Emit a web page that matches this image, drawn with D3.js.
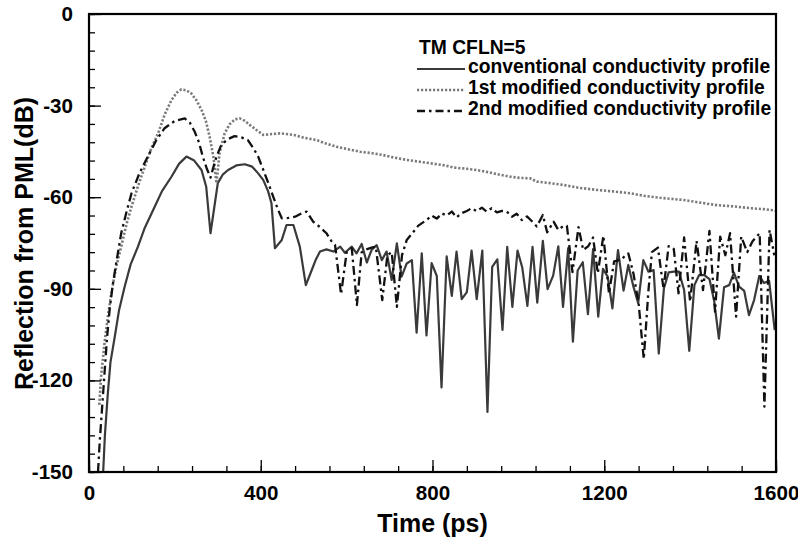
<!DOCTYPE html>
<html>
<head>
<meta charset="utf-8">
<script src="https://cdn.jsdelivr.net/npm/d3@7"></script>
<style>
  html, body { margin: 0; padding: 0; background: #fff; }
  svg text { font-family: "Liberation Sans", Arial, Helvetica, sans-serif; font-weight: bold; }
</style>
</head>
<body>
<svg id="chart" width="798" height="548"></svg>
<script>
// Reflection from the PML versus time, three conductivity profiles (TM, CFLN = 5)
const xMajorTicks = [0, 400, 800, 1200, 1600];
const yMajorTicks = [0, -30, -60, -90, -120, -150];
const legendTitle = "TM CFLN=5";
const seriesNames = [
  "conventional conductivity profile",
  "1st modified conductivity profile",
  "2nd modified conductivity profile"
];

// [time (ps), reflection (dB)]
const conventional = [
  [33,-150],[37,-138],[44,-124],[50,-114],[60,-105.7],[70,-97],[83,-89.3],[97,-82],
  [114,-76.2],[130,-70],[153,-63.1],[170,-58],[192,-53.3],[210,-49],[227,-46.7],[245,-48],
  [262,-51.1],[273,-56.6],[283,-71.8],[300,-55.4],[312,-52.5],[324,-51.1],[343,-49.6],[363,-49.2],
  [380,-50],[394,-52.2],[406,-54.4],[417,-58],[425,-62],[433,-76.7],[449,-74],[460,-69.1],
  [476,-69.1],[491,-76.2],[505,-88.8],[517,-84.5],[528,-80.5],[538,-77.8],[553,-77.1],[569,-77.8],
  [585,-76.2],[596,-78.2],[612,-76.2],[623,-78.4],[635,-75.3],[647,-81.4],[658,-77.3],[670,-75.7],
  [682,-80.6],[693,-77.8],[705,-87.1],[717,-75.1],[728,-86],[740,-81.7],[752,-80.6],[763,-104.4],
  [775,-78.4],[786,-105.3],[798,-81.6],[810,-85.8],[821,-122.3],[833,-79.4],[845,-92.3],[856,-77.8],
  [868,-93.4],[880,-91.1],[891,-77.5],[903,-93.4],[916,-77.5],[928,-130.3],[939,-82.8],[951,-80.4],
  [963,-103.5],[974,-76.3],[986,-95.9],[998,-77.5],[1009,-83],[1021,-95.6],[1033,-76.3],[1044,-94.5],
  [1057,-74.3],[1068,-90.1],[1081,-85.7],[1093,-76.1],[1104,-95.9],[1116,-76.7],[1127,-107.3],[1138,-84],
  [1150,-81.3],[1162,-98.3],[1174,-77],[1186,-99.1],[1197,-83.5],[1208,-86],[1219,-96.4],[1232,-77.3],
  [1245,-90.6],[1256,-82.2],[1268,-89.3],[1279,-94.7],[1291,-80.6],[1303,-84.4],[1315,-83.9],[1327,-111.2],
  [1339,-89.8],[1350,-84.6],[1362,-84.4],[1374,-84.4],[1386,-90.4],[1398,-110.3],[1410,-88.8],[1421,-85.5],
  [1433,-85.5],[1445,-86.8],[1456,-94],[1467,-106.3],[1479,-89.5],[1491,-88.8],[1502,-84.7],[1514,-89.3],
  [1526,-90.7],[1537,-98.6],[1549,-93.7],[1561,-85.8],[1572,-88.1],[1584,-87.4],[1597,-103.5]
];

const modified1 = [
  [24,-128],[28,-119],[36,-108],[44,-99],[52,-91.5],[63,-83],[75,-76.2],[87,-69],
  [99,-63.1],[115,-56],[130,-50],[145,-44],[161,-39.1],[176,-33],[192,-28.2],[204,-25.8],
  [215,-24.7],[227,-25],[238,-26],[250,-28.2],[262,-31.4],[272,-35],[281,-40.2],[290,-47],
  [297,-55.4],[304,-45.6],[316,-39.1],[328,-36],[340,-34.5],[351,-34.2],[363,-35],[375,-36.4],
  [390,-38],[406,-39.6],[420,-39.4],[445,-39.1],[460,-39.3],[476,-39.6],[500,-40.5],[530,-41.3],
  [550,-42.3],[577,-43.5],[600,-44.2],[631,-45.1],[660,-45.6],[685,-46.2],[710,-47],[740,-47.8],
  [771,-48.4],[800,-49],[825,-49.5],[850,-50.3],[880,-50.7],[903,-51.1],[930,-51.8],[955,-52.6],
  [981,-53.3],[1005,-53.7],[1027,-53.8],[1043,-54.9],[1070,-55.3],[1105,-56],[1140,-56.9],[1182,-57.6],
  [1220,-58.1],[1260,-58.7],[1295,-59.6],[1330,-60.2],[1360,-60.6],[1384,-60.9],[1420,-61.7],[1462,-62.6],
  [1500,-63],[1540,-63.6],[1570,-63.9],[1600,-64.4]
];

const modified2 = [
  [21,-150],[25,-140],[30,-130],[36,-118],[42,-106],[48,-96.9],[55,-89],[64,-81],
  [75,-71.8],[87,-65],[99,-58.7],[118,-52],[137,-46.7],[156,-41.5],[176,-37.4],[200,-35],
  [223,-34.2],[235,-35.6],[246,-38.5],[256,-42],[265,-46.7],[274,-50.5],[283,-53.6],[291,-49.5],
  [297,-46.7],[308,-42.9],[323,-41],[339,-40],[355,-40.4],[370,-41.3],[383,-44],[394,-46.7],
  [406,-51.1],[418,-55.5],[429,-59.8],[440,-64],[449,-66.9],[464,-66.8],[480,-66.4],[495,-65.3],
  [507,-64.7],[522,-68],[538,-69.8],[553,-71.8],[565,-74.5],[573,-75.6],[587,-91.8],[600,-78.1],
  [612,-76.7],[624,-95.3],[635,-78],[648,-77],[658,-76.5],[668,-76.2],[683,-93.7],[695,-79],
  [705,-78],[717,-95.9],[729,-79],[740,-74],[752,-72],[767,-69.3],[786,-67.5],[798,-66],
  [810,-67],[822,-65.3],[833,-66],[845,-64.7],[856,-66.6],[868,-65.2],[880,-64.5],[891,-63.6],
  [903,-64.6],[915,-63.4],[926,-64.7],[938,-63.6],[950,-65],[962,-64.5],[973,-64.7],[985,-66.4],
  [996,-65.4],[1008,-67.5],[1020,-66.3],[1031,-67.8],[1043,-69.6],[1057,-65.8],[1067,-71.5],[1082,-68],
  [1093,-70.7],[1104,-69.5],[1113,-69.4],[1126,-84.5],[1140,-69.8],[1151,-77.3],[1163,-76],[1174,-73.2],
  [1185,-84.9],[1198,-72.6],[1211,-91.5],[1223,-81],[1237,-80.6],[1256,-78.4],[1268,-85],[1280,-94.7],
  [1292,-113],[1303,-90.4],[1311,-78],[1325,-76.5],[1338,-90],[1350,-76],[1362,-77],[1373,-91.5],
  [1386,-73.2],[1400,-94.2],[1415,-74.3],[1430,-90.4],[1445,-71],[1458,-97.5],[1470,-72.9],[1482,-79],
  [1493,-71.8],[1507,-99.1],[1519,-72.9],[1533,-78],[1545,-74.5],[1562,-71.8],[1573,-128.6],[1585,-70.7],
  [1596,-79]
];

const svg = d3.select("#chart");
const plot = { left: 89, right: 776, top: 14, bottom: 472 };

const x = d3.scaleLinear().domain([0, 1600]).range([plot.left, plot.right]);
const y = d3.scaleLinear().domain([-150, 0]).range([plot.bottom, plot.top]);

// Clip region for the curves
svg.append("defs").append("clipPath").attr("id", "plotClip")
  .append("rect")
  .attr("x", plot.left).attr("y", plot.top)
  .attr("width", plot.right - plot.left).attr("height", plot.bottom - plot.top);

const styles = [
  { data: conventional, stroke: "#3a3a3a", width: 2.2, dash: null },
  { data: modified1,    stroke: "#7a7a7a", width: 2.6, dash: "2.2,1.8" },
  { data: modified2,    stroke: "#111111", width: 2.3, dash: "9,4,2.5,4" }
];

const line = d3.line().x(d => x(d[0])).y(d => y(d[1]));

const curves = svg.append("g").attr("clip-path", "url(#plotClip)");
styles.forEach(s => {
  curves.append("path")
    .datum(s.data)
    .attr("d", line)
    .attr("fill", "none")
    .attr("stroke", s.stroke)
    .attr("stroke-width", s.width)
    .attr("stroke-linejoin", "round")
    .attr("stroke-dasharray", s.dash);
});

// Axes: minor ticks every 80 ps / 6 dB, major ticks labelled (plain hyphen for negatives)
const xMinor = d3.range(0, 1601, 80);
const yMinor = d3.range(-150, 1, 6);
const plainNumber = d => String(d);

const gx = svg.append("g").attr("transform", `translate(0,${plot.bottom})`);
gx.call(d3.axisBottom(x).tickValues(xMinor).tickSize(-6).tickFormat(""));
gx.append("g").call(d3.axisBottom(x).tickValues(xMajorTicks).tickSize(-12).tickPadding(13).tickFormat(plainNumber));

const gy = svg.append("g").attr("transform", `translate(${plot.left},0)`);
gy.call(d3.axisLeft(y).tickValues(yMinor).tickSize(-6).tickFormat(""));
gy.append("g").call(d3.axisLeft(y).tickValues(yMajorTicks).tickSize(-12).tickPadding(16).tickFormat(plainNumber));

svg.selectAll(".domain").remove();
svg.selectAll(".tick line").attr("stroke", "#000").attr("stroke-width", 1.3);
svg.selectAll(".tick text")
  .attr("fill", "#000")
  .style("font-size", "20.6px")
  .style("font-family", "'Liberation Sans', Arial, sans-serif")
  .style("font-weight", "bold");

// Frame
svg.append("rect")
  .attr("x", plot.left).attr("y", plot.top)
  .attr("width", plot.right - plot.left).attr("height", plot.bottom - plot.top)
  .attr("fill", "none").attr("stroke", "#000").attr("stroke-width", 2.2);

// Axis titles
svg.append("text")
  .attr("x", (plot.left + plot.right) / 2).attr("y", 532)
  .attr("text-anchor", "middle")
  .style("font-size", "25px")
  .text("Time (ps)");

svg.append("text")
  .attr("transform", `translate(33,${(95 + 392) / 2}) rotate(-90)`)
  .attr("text-anchor", "middle")
  .style("font-size", "25px")
  .text("Reflection from PML(dB)");

// Legend
const legend = svg.append("g");
legend.append("text")
  .attr("x", 419).attr("y", 54)
  .style("font-size", "19.3px")
  .text(legendTitle);

const legendRows = [73, 94, 115];
styles.forEach((s, i) => {
  const yy = legendRows[i];
  legend.append("line")
    .attr("x1", 417).attr("x2", 465)
    .attr("y1", yy - 4).attr("y2", yy - 4)
    .attr("stroke", s.stroke)
    .attr("stroke-width", s.width)
    .attr("stroke-dasharray", i === 2 ? "8,4,2.5,4" : s.dash);
  legend.append("text")
    .attr("x", 468).attr("y", yy)
    .style("font-size", "19.3px")
    .text(seriesNames[i]);
});
</script>
</body>
</html>
